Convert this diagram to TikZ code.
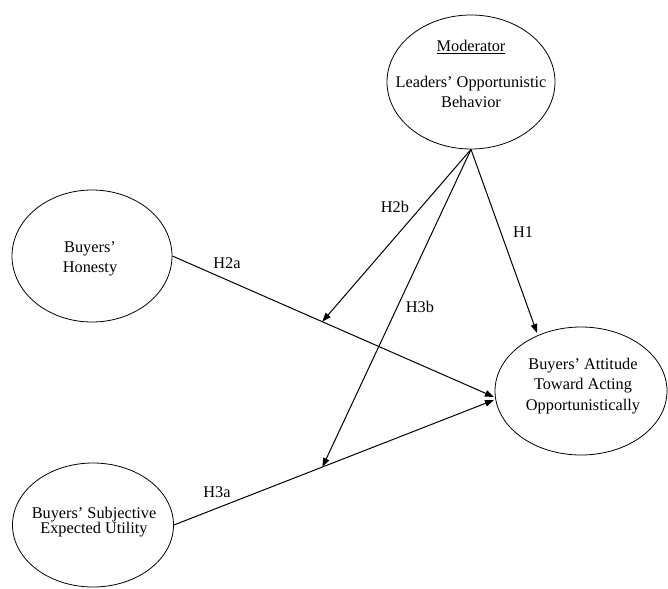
\documentclass[tikz,border=0pt]{standalone}
\usepackage{fontspec}
\setmainfont{Liberation Serif}
\usetikzlibrary{shapes.geometric,arrows.meta,calc}
\begin{document}
\begin{tikzpicture}[x=1pt,y=-1pt,
  oval/.style={draw,ellipse,line width=0.8pt,inner sep=0pt},
  txt/.style={align=center,font=\fontsize{16.3}{20.5}\selectfont,inner sep=0pt},
  lbl/.style={font=\fontsize{16.3}{20}\selectfont,inner sep=0pt},
  arr/.style={line width=1pt,-{Triangle[length=9pt,width=6.5pt]}},
  ln/.style={line width=1pt}]
\useasboundingbox (0,0) rectangle (668,588);
% ellipses
\node[oval,minimum width=168pt,minimum height=134pt] (mod) at (471,82) {};
\node[oval,minimum width=160pt,minimum height=132pt] (hon) at (92,256) {};
\node[oval,minimum width=161pt,minimum height=124pt] (sub) at (93,525) {};
\node[oval,minimum width=172pt,minimum height=128pt] (att) at (581,391) {};
% texts
\node[txt] (modt) at (471,47) {\underline{Moderator}};
\node[txt] (modn) at (471,92) {Leaders’ Opportunistic\\Behavior};
\node[txt] (hont) at (90,259) {Buyers’\\Honesty};
\node[txt,font=\fontsize{16.3}{15}\selectfont] (subt) at (94,522) {Buyers’ Subjective\\Expected Utility};
\node[txt] (attt) at (583,386) {Buyers’ Attitude\\Toward Acting\\Opportunistically};
% coordinates
\coordinate (tipA) at (494,397);
\coordinate (tipB) at (494,400);
\coordinate (t1) at (537,333);
\coordinate (m1) at ($(hon.east)!0.466!(tipA)$);
\coordinate (m2) at ($(sub.east)!0.464!(tipB)$);
% connectors
\draw[arr] (hon.east) -- (tipA);
\draw[arr] (sub.east) -- (tipB);
\draw[arr] (mod.south) -- (t1);
\draw[arr] (mod.south) -- (m1);
\draw[arr] (mod.south) -- (m2);
% labels
\node[lbl] (h2a) at (227,263) {H2a};
\node[lbl] (h3a) at (217,492) {H3a};
\node[lbl] (h2b) at (395,207) {H2b};
\node[lbl] (h1) at (523,232) {H1};
\node[lbl] (h3b) at (420,307) {H3b};
\end{tikzpicture}
\end{document}
